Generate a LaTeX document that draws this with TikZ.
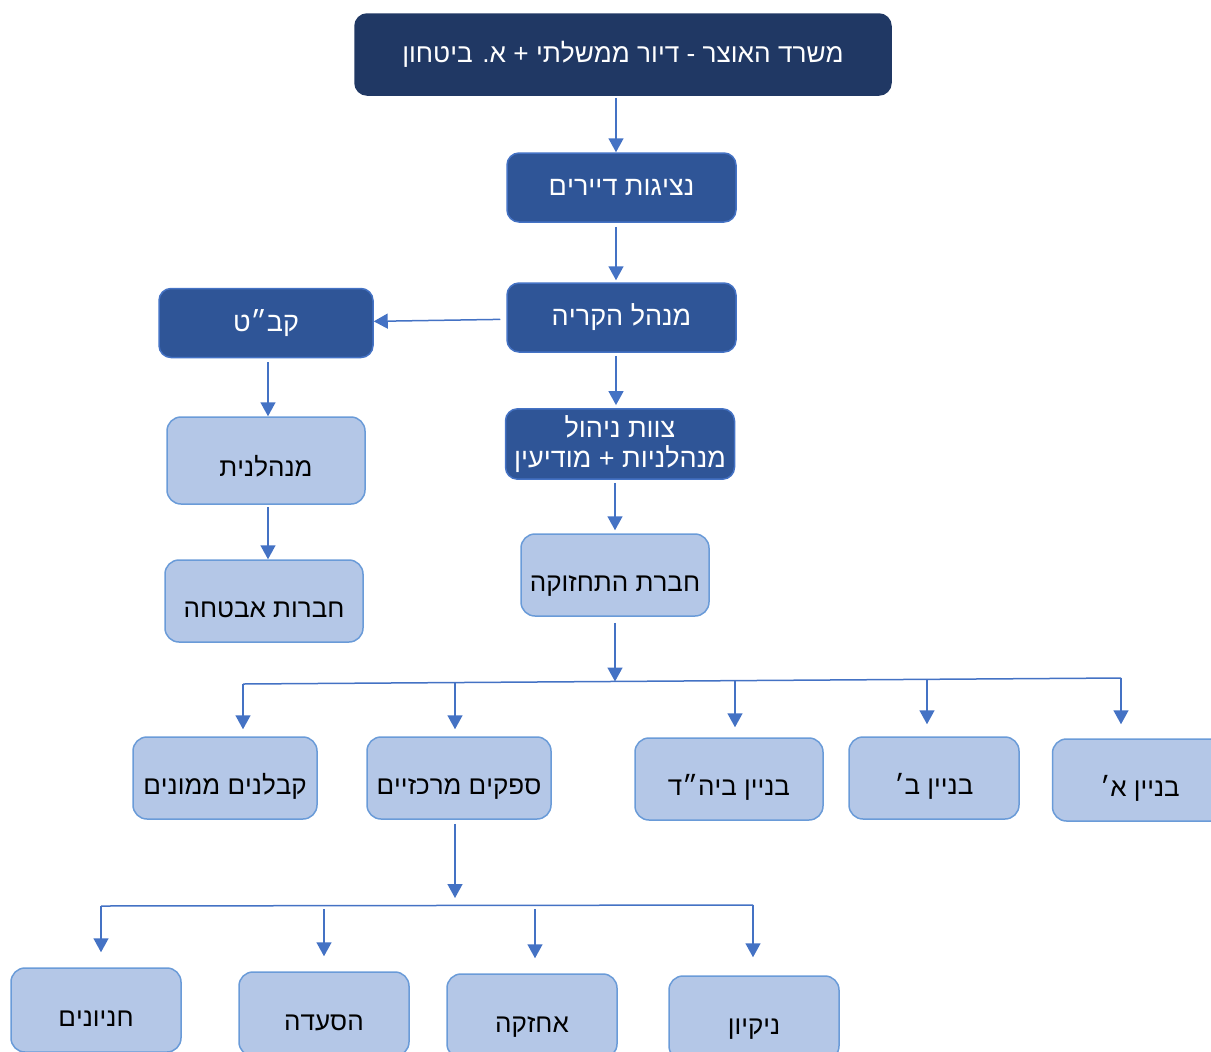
\documentclass[tikz,border=0pt]{standalone}
\usepackage{fontspec}
\setmainfont{Liberation Sans}
\TeXXeTstate=1
\usepackage{tikz}
\usetikzlibrary{%
  arrows.meta,% Triangle tips
  positioning%
}
\definecolor{navy}{HTML}{203864}
\definecolor{midblue}{HTML}{2F5597}
\definecolor{paleblue}{HTML}{B4C7E7}
\definecolor{linkblue}{HTML}{4472C4}
\definecolor{rimblue}{HTML}{6A9BD8}
\newcommand{\heb}[1]{\beginR #1\endR}

\begin{document}
\begin{tikzpicture}
    [   x=0.5pt, y=-0.5pt
    ,   >={Triangle[width=7.5pt,length=7pt]}
    ,   line width=0.75pt
    ,   linkblue
    ,   chief/.style=
            {   rectangle
            ,   rounded corners=6pt
            ,   draw=navy
            ,   fill=navy
            ,   text=white
            ,   minimum width=268pt
            ,   minimum height=40.5pt
            ,   font=\fontsize{13.1}{16}\selectfont
            }
    ,   unit/.style=
            {   rectangle
            ,   rounded corners=6pt
            ,   draw=linkblue
            ,   fill=midblue
            ,   text=white
            ,   minimum width=114.5pt
            ,   minimum height=34.5pt
            ,   font=\fontsize{13.5}{15}\selectfont
            }
    ,   branch/.style=
            {   rectangle
            ,   rounded corners=7pt
            ,   draw=rimblue
            ,   fill=paleblue
            ,   text=black
            ,   minimum width=99pt
            ,   minimum height=41pt
            ,   text height=19pt
            ,   text depth=3pt
            ,   font=\fontsize{13}{15}\selectfont
            }
    ]
    \useasboundingbox (0,0) rectangle (1211,1051);

    % upper chain
    \node[chief](M) at (623,54.5)  {\heb{משרד האוצר - דיור ממשלתי + א. ביטחון}};
    \node[unit](N)  at (621.5,187.5) {\heb{נציגות דיירים}};
    \node[unit](Q)  at (621.5,317.5) {\heb{מנהל הקריה}};
    \node[unit,minimum width=107pt](K) at (266,323) {\heb{קב״ט}};
    \node[unit,align=center](Z) at (620,444) {\heb{צוות ניהול}\\\heb{מנהלניות + מודיעין}};
    \node[branch,minimum height=43.5pt](A) at (266,460.5) {\heb{מנהלנית}};
    \node[branch](B) at (264,601) {\heb{חברות אבטחה}};
    \node[branch,minimum width=94pt](T) at (615,575) {\heb{חברת התחזוקה}};

    % middle row
    \node[branch,minimum width=92pt](R) at (225,778) {\heb{קבלנים ממונים}};
    \node[branch,minimum width=92pt](S) at (459,778) {\heb{ספקים מרכזיים}};
    \node[branch,minimum width=94pt](D) at (729,779) {\heb{בניין ביה״ד}};
    \node[branch,minimum width=85pt](E) at (934,778) {\heb{בניין ב׳}};
    \node[branch,minimum width=87.5pt](F) at (1140,780) {\heb{בניין א׳}};

    % lower row
    \node[branch,minimum width=85pt,minimum height=42pt](P) at (96,1010)  {\heb{חניונים}};
    \node[branch,minimum width=85pt,minimum height=42pt](H) at (324,1014) {\heb{הסעדה}};
    \node[branch,minimum width=85pt,minimum height=42pt](W) at (532,1016) {\heb{אחזקה}};
    \node[branch,minimum width=85pt,minimum height=42pt](C) at (754,1018) {\heb{ניקיון}};

    % trunk and bus points
    \coordinate (v)  at (616,0);
    \coordinate (k)  at (268,0);
    \coordinate (j)  at (615,681.5);
    \coordinate (b1) at (243,684);
    \coordinate (b2) at (455,682.5);
    \coordinate (b3) at (735,680.6);
    \coordinate (b4) at (927,679.3);
    \coordinate (b5) at (1121,678);
    \coordinate (c0) at (455,906);
    \coordinate (c1) at (101,906);
    \coordinate (c2) at (324,909);
    \coordinate (c3) at (535,909);
    \coordinate (c4) at (753,905);

    \draw[->,shorten <=1pt](M.south -| v)--(N.north -| v);
    \draw[->,shorten <=2pt,shorten >=1pt](N.south -| v)--(Q.north -| v);
    \draw[->,shorten <=3pt](Q)--(K);
    \draw[->,shorten <=1.5pt,shorten >=1.5pt](Q.south -| v)--(Z.north -| v);
    \draw[->,shorten <=2pt](K.south -| k)--(A.north -| k);
    \draw[->,shorten <=1pt](A.south -| k)--(B.north -| k);
    \draw[->,shorten <=1.5pt,shorten >=1.5pt](Z.south -| j)--(T.north -| j);
    \draw[->,shorten <=3pt](T)--(j);

    \draw(b1)--(b5);
    \draw[->,shorten >=3.5pt](b1)--(b1 |- R.north);
    \draw[->,shorten >=3.5pt](b2)--(b2 |- S.north);
    \draw[->,shorten >=5pt](b3)--(b3 |- D.north);
    \draw[->,shorten >=6pt](b4)--(b4 |- E.north);
    \draw[->,shorten >=7pt](b5)--(b5 |- F.north);

    \draw[->,shorten <=2pt,shorten >=4pt](S.south -| c0)--(c0);
    \draw(c1)--(c4);
    \draw[->,shorten >=7.5pt](c1)--(c1 |- P.north);
    \draw[->,shorten >=7.5pt](c2)--(c2 |- H.north);
    \draw[->,shorten >=7.5pt](c3)--(c3 |- W.north);
    \draw[->,shorten >=9pt](c4)--(c4 |- C.north);
\end{tikzpicture}
\end{document}
